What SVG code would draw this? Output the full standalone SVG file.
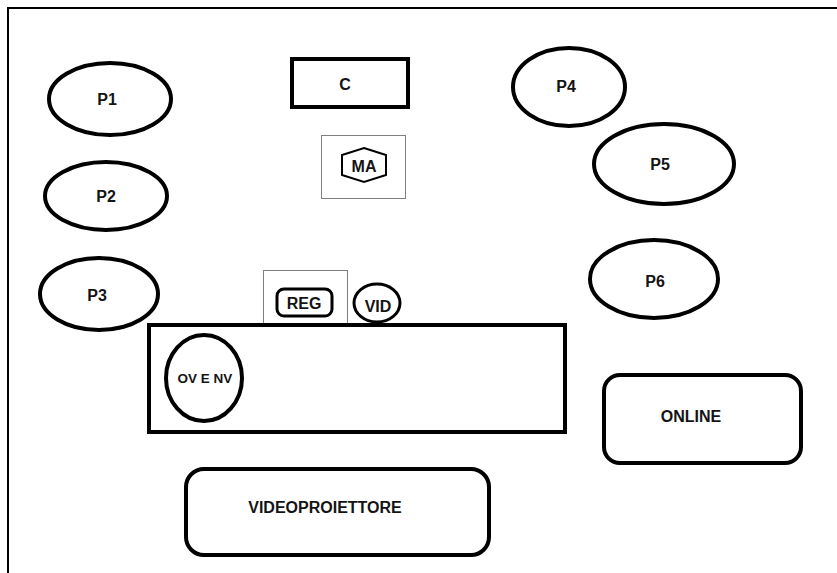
<svg xmlns="http://www.w3.org/2000/svg" width="837" height="573" viewBox="0 0 837 573">
<style>
.s{fill:#fff;stroke:#000;stroke-width:4}
.t{fill:none;stroke:#808080;stroke-width:1}
.l{font-family:"Liberation Sans",Arial,sans-serif;font-weight:bold;font-size:16px;fill:#141414;text-anchor:middle;dominant-baseline:central}
</style>
<rect width="837" height="573" fill="#fff"/>
<path d="M8 573 V8 H837" fill="none" stroke="#000" stroke-width="2"/>
<g id="P1"><ellipse class="s" cx="110" cy="99" rx="61" ry="36"/><text class="l" x="107" y="99">P1</text></g>
<g id="P2"><ellipse class="s" cx="106" cy="196" rx="61" ry="34"/><text class="l" x="106" y="196">P2</text></g>
<g id="P3"><ellipse class="s" cx="99" cy="294" rx="59" ry="36"/><text class="l" x="97" y="295">P3</text></g>
<g id="P4"><ellipse class="s" cx="569" cy="87" rx="56" ry="39"/><text class="l" x="566" y="86">P4</text></g>
<g id="P5"><ellipse class="s" cx="664" cy="164" rx="70" ry="40"/><text class="l" x="660" y="164">P5</text></g>
<g id="P6"><ellipse class="s" cx="654" cy="279" rx="64" ry="39"/><text class="l" x="655" y="281">P6</text></g>
<g id="C"><rect class="s" x="292" y="59" width="116" height="48"/><text class="l" x="345" y="84">C</text></g>
<g id="MA"><rect class="t" x="321.5" y="135.5" width="84" height="63"/><polygon points="364,148 386,155 386,175 364,182 342,175 342,155" fill="#fff" stroke="#000" stroke-width="2"/><text class="l" x="364" y="166">MA</text></g>
<g id="REG"><rect class="t" x="263.5" y="270.5" width="84" height="53"/><rect x="277" y="289" width="55" height="27" rx="7" fill="#fff" stroke="#000" stroke-width="3"/><text class="l" x="304" y="303">REG</text></g>
<g id="VID"><ellipse cx="377" cy="303" rx="23" ry="19" fill="#fff" stroke="#000" stroke-width="3"/><text class="l" x="378" y="306">VID</text></g>
<g id="BANCO"><rect class="s" x="149" y="325" width="416" height="107"/></g>
<g id="OVENV"><ellipse class="s" cx="204" cy="378" rx="38" ry="43"/><text class="l" x="205" y="378" style="font-size:13.5px">OV E NV</text></g>
<g id="ONLINE"><rect class="s" x="604" y="375" width="197" height="88" rx="16"/><text class="l" x="691" y="416">ONLINE</text></g>
<g id="VIDEOPROIETTORE"><rect class="s" x="186" y="469" width="303" height="86" rx="18"/><text class="l" x="325" y="507">VIDEOPROIETTORE</text></g>
<g id="connectors"></g>
</svg>
